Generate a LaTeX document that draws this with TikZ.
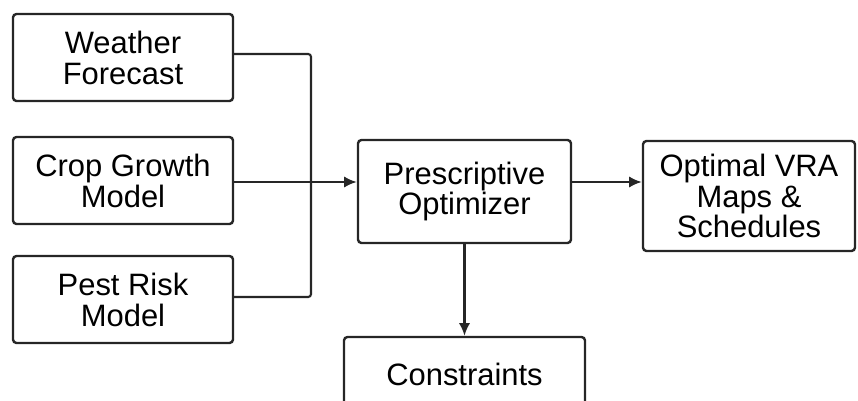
\documentclass[tikz,border=0pt]{standalone}
\usepackage{fontspec}
\setmainfont{Liberation Sans}
\usepackage{tikz}
\usetikzlibrary{arrows.meta,positioning,calc}

\begin{document}
\begin{tikzpicture}[
  x=0.025cm, y=-0.025cm,
  font=\fontsize{22}{22}\selectfont,
  >={Latex[length=9pt,width=8pt]},
  box/.style={draw=black!85, rounded corners=2.5pt, align=center, inner sep=3pt, line width=1.7pt},
  srcbox/.style={box, minimum width=5.5cm, minimum height=2.175cm},
  corebox/.style={box, minimum width=5.325cm, minimum height=2.575cm},
  resbox/.style={box, minimum width=5.3cm, minimum height=2.75cm},
  limbox/.style={box, minimum width=6.025cm, minimum height=1.85cm},
  link/.style={draw=black!85, line width=1.5pt}
]
\useasboundingbox (0,0) rectangle (858,401);

\node[srcbox] (weather) at (123,57.5) {Weather\\Forecast};
\node[srcbox] (crop) at (123,180.5) {Crop Growth\\Model};
\node[srcbox] (pest) at (123,299.5) {Pest Risk\\Model};

\node[corebox] (presc) at (464.5,191.5) {Prescriptive\\Optimizer};
\node[resbox] (vra) at (749,196) {Optimal VRA\\Maps \&\\Schedules};
\node[limbox] (cons) at (464.5,374) {Constraints};

\coordinate (bus) at (311,182);

\draw[link, rounded corners=2pt] (weather.east |- 0,54) -| (bus) |- (pest.east |- 0,297);
\draw[link, ->] (crop.east |- bus) -- (presc.west |- bus);
\draw[link, ->] (presc.east |- bus) -- (vra.west |- bus);
\draw[link, ->] (presc) -- (cons);
\end{tikzpicture}
\end{document}
